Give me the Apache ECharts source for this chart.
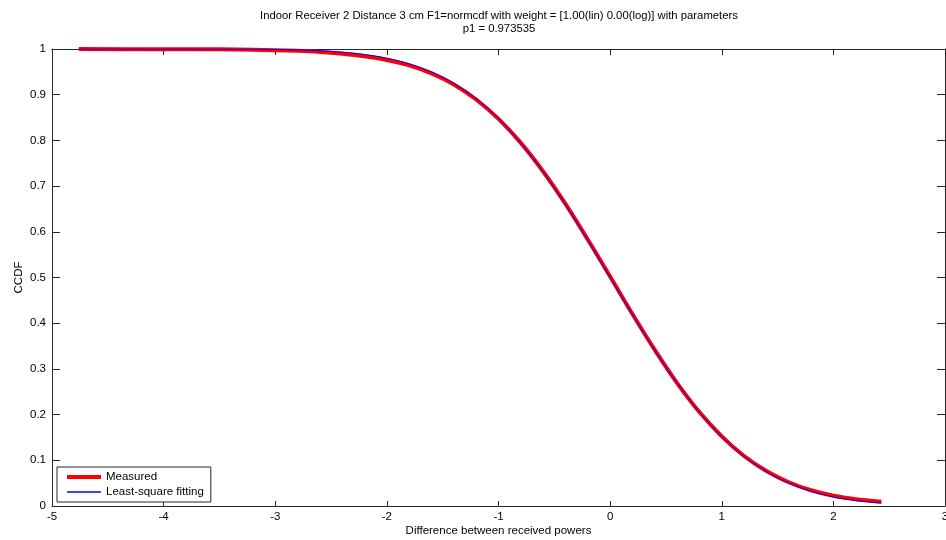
<!DOCTYPE html>
<html>
<head>
<meta charset="utf-8">
<script src="https://cdn.jsdelivr.net/npm/echarts@6/dist/echarts.min.js"></script>
<style>html,body{margin:0;padding:0;background:#fff}#c{width:946px;height:540px}</style>
</head>
<body>
<div id="c"></div>
<script>
const titleLines = ["Indoor Receiver 2 Distance 3 cm F1=normcdf with weight = [1.00(lin) 0.00(log)] with parameters", "p1 = 0.973535"];
const xLabel = "Difference between received powers";
const yLabel = "CCDF";
const seriesNames = ["Measured", "Least-square fitting"];

const xs = [-4.76, -4.0, -3.5, -3.2, -3.0, -2.8, -2.6, -2.4, -2.2, -2.0, -1.8, -1.6, -1.4, -1.2, -1.0, -0.8, -0.6, -0.4, -0.2, 0.0, 0.2, 0.4, 0.6, 0.8, 1.0, 1.2, 1.4, 1.6, 1.8, 2.0, 2.2, 2.43];
const measured = [0.9998, 0.9996, 0.9992, 0.9985, 0.9975, 0.9960, 0.9935, 0.9895, 0.9840, 0.9760, 0.9640, 0.9465, 0.9225, 0.8895, 0.8470, 0.7945, 0.7320, 0.6610, 0.5830, 0.5020, 0.4200, 0.3415, 0.2690, 0.2055, 0.1525, 0.1095, 0.0765, 0.0520, 0.0345, 0.0225, 0.0150, 0.0095];
const fitted = [1.0000, 1.0000, 0.9998, 0.9995, 0.9990, 0.9980, 0.9962, 0.9932, 0.9881, 0.9800, 0.9678, 0.9499, 0.9248, 0.8911, 0.8478, 0.7944, 0.7312, 0.6594, 0.5814, 0.5000, 0.4186, 0.3406, 0.2688, 0.2056, 0.1522, 0.1089, 0.0752, 0.0501, 0.0322, 0.0200, 0.0119, 0.0063];

const font = "Liberation Sans";
const fs = 11.5;
const axisCol = "#262626";
const chart = echarts.init(document.getElementById('c'), null, {renderer: 'canvas'});
const baseX = {type: 'value', min: -5, max: 3, interval: 1, splitLine: {show: false}};
const baseY = {type: 'value', min: 0, max: 1, interval: 0.1, splitLine: {show: false}};
const hidden = {color: 'rgba(0,0,0,0)', borderWidth: 0};
chart.setOption({
  backgroundColor: '#fff',
  animation: false,
  title: {
    text: titleLines.join('\n'),
    left: 494, top: 4, textAlign: 'center',
    textStyle: {fontFamily: font, fontSize: 11.3, fontWeight: 'normal', color: '#000', lineHeight: 13}
  },
  legend: {
    left: 57, top: 467, orient: 'vertical',
    backgroundColor: '#fff', borderColor: axisCol, borderWidth: 1,
    padding: [4, 7, 4, 8], itemGap: 3, itemWidth: 34, itemHeight: 13,
    textStyle: {fontFamily: font, fontSize: fs, color: '#000'},
    data: [
      {name: seriesNames[0], itemStyle: hidden, lineStyle: {color: '#ff0000', width: 4}},
      {name: seriesNames[1], itemStyle: hidden, lineStyle: {color: '#0000ff', width: 1.3}}
    ]
  },
  grid: {left: 52, right: 1, top: 49, bottom: 34, containLabel: false, outerBoundsMode: 'none'},
  xAxis: [
    Object.assign({}, baseX, {
      position: 'bottom',
      name: xLabel, nameLocation: 'middle', nameGap: 19, nameMoveOverlap: false,
      nameTextStyle: {fontFamily: font, fontSize: fs, color: '#000'},
      axisLine: {show: true, onZero: false, lineStyle: {color: axisCol, width: 1}},
      axisTick: {show: true, inside: true, length: 5, lineStyle: {color: axisCol}},
      axisLabel: {fontFamily: font, fontSize: fs, color: '#000', margin: 5, showMaxLabel: true, showMinLabel: true}
    }),
    Object.assign({}, baseX, {
      position: 'top',
      axisLine: {show: true, onZero: false, lineStyle: {color: axisCol, width: 1}},
      axisTick: {show: true, inside: true, length: 6, lineStyle: {color: axisCol}},
      axisLabel: {show: false}
    })
  ],
  yAxis: [
    Object.assign({}, baseY, {
      position: 'left',
      name: yLabel, nameLocation: 'middle', nameGap: 27, nameRotate: 90, nameMoveOverlap: false,
      nameTextStyle: {fontFamily: font, fontSize: fs, color: '#000'},
      axisLine: {show: true, onZero: false, lineStyle: {color: axisCol, width: 1}},
      axisTick: {show: true, inside: true, length: 8, lineStyle: {color: axisCol}},
      axisLabel: {fontFamily: font, fontSize: fs, color: '#000', margin: 6}
    }),
    Object.assign({}, baseY, {
      position: 'right',
      axisLine: {show: true, onZero: false, lineStyle: {color: axisCol, width: 1}},
      axisTick: {show: true, inside: true, length: 8, lineStyle: {color: axisCol}},
      axisLabel: {show: false}
    })
  ],
  series: [
    {
      name: seriesNames[0], type: 'line', xAxisIndex: 0, yAxisIndex: 0,
      data: xs.map((x, i) => [x, measured[i]]),
      showSymbol: false, symbol: 'none', smooth: 0.3,
      lineStyle: {color: '#ff0000', width: 4}, itemStyle: {color: '#ff0000'}, z: 2
    },
    {
      name: seriesNames[1], type: 'line', xAxisIndex: 0, yAxisIndex: 0,
      data: xs.map((x, i) => [x, fitted[i]]),
      showSymbol: false, symbol: 'none', smooth: 0.3,
      lineStyle: {color: '#0000ff', width: 1}, itemStyle: {color: '#0000ff'}, z: 3
    }
  ]
});
</script>
</body>
</html>
